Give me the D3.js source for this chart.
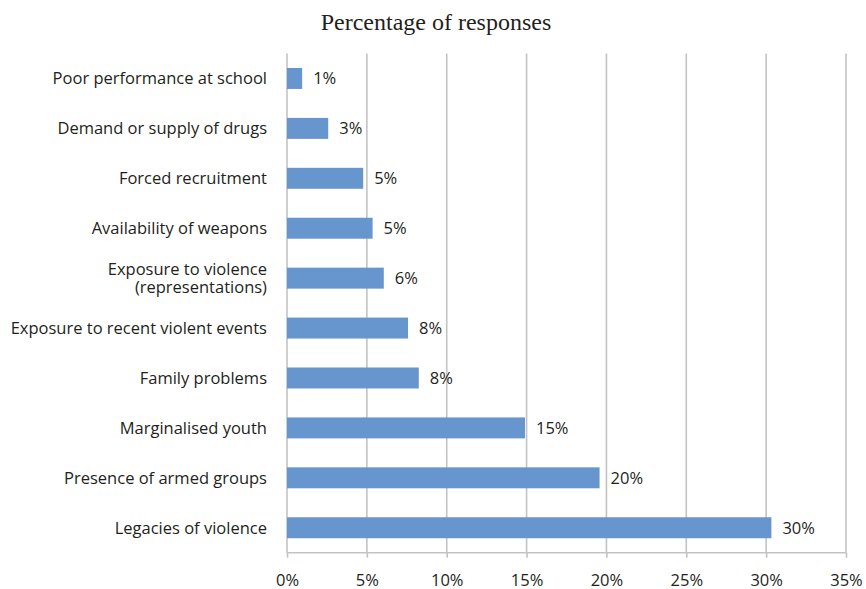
<!DOCTYPE html>
<html>
<head>
<meta charset="utf-8">
<script src="https://cdn.jsdelivr.net/npm/d3@7/dist/d3.min.js"></script>
<style>
  html, body { margin: 0; padding: 0; background: #fff; }
  svg { display: block; }
</style>
</head>
<body>
<svg id="chart" width="866" height="589"></svg>
<script>
// Drivers of violence, share of responses (top to bottom)
const categories = [
  ["Poor performance at school"],
  ["Demand or supply of drugs"],
  ["Forced recruitment"],
  ["Availability of weapons"],
  ["Exposure to violence", "(representations)"],
  ["Exposure to recent violent events"],
  ["Family problems"],
  ["Marginalised youth"],
  ["Presence of armed groups"],
  ["Legacies of violence"]
];
const values = [0.95, 2.58, 4.77, 5.36, 6.06, 7.58, 8.25, 14.9, 19.57, 30.33];
const valueLabels = ["1%", "3%", "5%", "5%", "6%", "8%", "8%", "15%", "20%", "30%"];
const xTicks = [0, 5, 10, 15, 20, 25, 30, 35];
const title = "Percentage of responses";

(function draw() {
  const svg = d3.select("#chart");
  const m = { left: 287, right: 846, top: 53.5, bottom: 552.7 };
  const sansFont = "'Open Sans', 'Noto Sans', sans-serif";
  const fs = 16.5;

  const x = d3.scaleLinear().domain([0, 35]).range([m.left, m.right]);
  const y = d3.scaleBand().domain(d3.range(categories.length))
    .range([m.top, m.bottom]).paddingInner(0.58).paddingOuter(0.29);

  // Title
  svg.append("text")
    .attr("x", 436).attr("y", 30)
    .attr("text-anchor", "middle")
    .attr("font-family", "'Liberation Serif', 'Times New Roman', serif")
    .attr("font-size", 24)
    .attr("fill", "#231f20")
    .text(title);

  // Vertical gridlines
  svg.append("g").selectAll("line")
    .data(xTicks)
    .join("line")
    .attr("x1", d => x(d)).attr("x2", d => x(d))
    .attr("y1", m.top).attr("y2", m.bottom)
    .attr("stroke", "#c3c3c3").attr("stroke-width", 1.6);

  // Bars
  svg.append("g").selectAll("rect")
    .data(values)
    .join("rect")
    .attr("x", x(0))
    .attr("y", (d, i) => y(i))
    .attr("width", d => x(d) - x(0))
    .attr("height", y.bandwidth())
    .attr("fill", "#6795cd");

  // Value labels
  svg.append("g").selectAll("text")
    .data(values)
    .join("text")
    .attr("x", d => x(d) + 11)
    .attr("y", (d, i) => y(i) + y.bandwidth() / 2)
    .attr("dy", "0.35em")
    .attr("font-family", sansFont)
    .attr("font-size", fs)
    .attr("fill", "#231f20")
    .text((d, i) => valueLabels[i]);

  // Category labels
  const catG = svg.append("g");
  categories.forEach((lines, i) => {
    const cy = y(i) + y.bandwidth() / 2;
    const t = catG.append("text")
      .attr("text-anchor", "end")
      .attr("font-family", sansFont)
      .attr("font-size", fs)
      .attr("fill", "#231f20");
    const lh = 18;
    lines.forEach((ln, k) => {
      t.append("tspan")
        .attr("x", 267)
        .attr("y", cy + (k - (lines.length - 1) / 2) * lh)
        .attr("dy", "0.35em")
        .text(ln);
    });
  });

  // Bottom axis
  const axis = d3.axisBottom(x)
    .tickValues(xTicks)
    .tickFormat(d => d + "%")
    .tickSize(5)
    .tickPadding(17);
  const ax = svg.append("g").attr("transform", `translate(0,${m.bottom})`).call(axis);
  ax.select(".domain").attr("stroke", "#c3c3c3").attr("stroke-width", 1.6)
    .attr("d", `M${m.left},0H${m.right}`);
  ax.selectAll(".tick line").attr("stroke", "#c3c3c3").attr("stroke-width", 1.6);
  ax.selectAll(".tick text")
    .attr("font-family", sansFont)
    .attr("font-size", fs)
    .attr("fill", "#231f20");
})();
</script>
</body>
</html>
